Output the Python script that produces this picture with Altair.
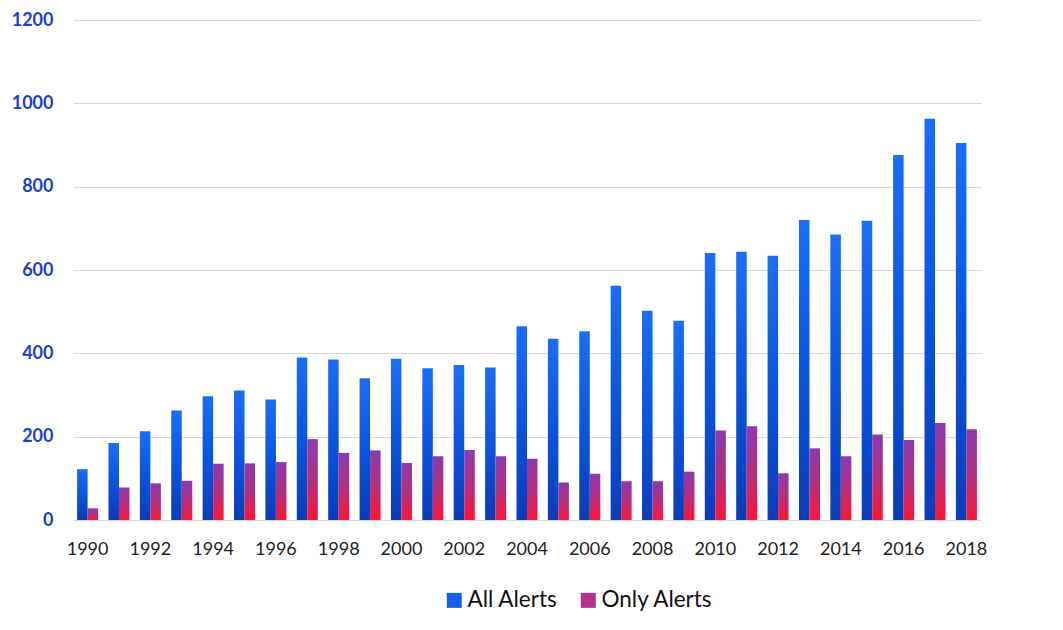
import altair as alt
import pandas as pd

years = list(range(1990, 2019))
all_alerts = [122, 185, 213, 263, 297, 311, 289, 390, 385, 340,
              387, 364, 372, 366, 465, 435, 453, 562, 502, 478,
              641, 644, 634, 720, 685, 718, 876, 963, 905]
only_alerts = [28, 78, 88, 94, 135, 136, 139, 194, 161, 167,
               137, 153, 168, 153, 147, 90, 111, 93, 93, 116,
               215, 225, 112, 172, 153, 205, 192, 233, 218]
series_names = ["All Alerts", "Only Alerts"]
series_colors = ["#1560e8", "#b8308f"]
y_ticks = [0, 200, 400, 600, 800, 1000, 1200]
x_ticks = years[::2]

rows = []
for i, yr in enumerate(years):
    rows.append({"year": yr, "series": series_names[0], "value": all_alerts[i]})
    rows.append({"year": yr, "series": series_names[1], "value": only_alerts[i]})
df = pd.DataFrame(rows)

FONT = "Lato"

x_enc = alt.X(
    "year:O",
    scale=alt.Scale(paddingInner=0.33, paddingOuter=0.13),
    axis=alt.Axis(values=x_ticks, labelAngle=0, title=None, ticks=False,
                  domain=False, labelPadding=20, labelFontSize=18,
                  labelColor="#222222", labelFont=FONT, grid=False),
)
xoff = alt.XOffset("series:N", scale=alt.Scale(domain=series_names,
                                               paddingInner=0, paddingOuter=0))
y_enc = alt.Y(
    "value:Q",
    scale=alt.Scale(domain=[0, 1200]),
    axis=alt.Axis(values=y_ticks, format="d", title=None, ticks=False, domain=False,
                  labelPadding=20, labelFontSize=18, labelFontWeight="bold",
                  labelColor="#1d3fc4", labelFont=FONT, grid=True,
                  gridColor="#d9d9d9", gridWidth=1.2),
)

blue_grad = alt.Gradient(
    gradient="linear", x1=0, x2=0, y1=0, y2=1,
    stops=[alt.GradientStop(color="#1a6ef5", offset=0),
           alt.GradientStop(color="#0b55dd", offset=0.5),
           alt.GradientStop(color="#0a3cb8", offset=1)],
)
pink_grad = alt.Gradient(
    gradient="linear", x1=0, x2=0, y1=0, y2=1,
    stops=[alt.GradientStop(color="#8a3aae", offset=0),
           alt.GradientStop(color="#b0307f", offset=0.5),
           alt.GradientStop(color="#ff1436", offset=1)],
)

base = alt.Chart(df)

bars_all = base.transform_filter(alt.datum.series == series_names[0]).mark_bar(
    color=blue_grad).encode(x=x_enc, xOffset=xoff, y=y_enc)
bars_only = base.transform_filter(alt.datum.series == series_names[1]).mark_bar(
    color=pink_grad).encode(x=x_enc, xOffset=xoff, y=y_enc)

legend_layer = base.mark_square(size=0, opacity=0).encode(
    x=x_enc, y=y_enc,
    color=alt.Color(
        "series:N",
        scale=alt.Scale(domain=series_names, range=series_colors),
        legend=alt.Legend(orient="none", legendX=370, legendY=569,
                          direction="horizontal", title=None,
                          symbolType="square", symbolSize=225,
                          symbolOpacity=1, symbolStrokeWidth=0,
                          labelFontSize=22.5, labelFont=FONT,
                          labelColor="#111111", labelOffset=2,
                          columnPadding=19, padding=0),
    ),
)

chart = alt.layer(bars_all, bars_only, legend_layer).properties(
    width=908, height=500,
    padding={"left": 3, "top": 3, "right": 5, "bottom": 5},
).configure(
    background="white",
    view=alt.ViewConfig(strokeWidth=0, stroke="transparent"),
)

chart.save("out.html", embed_options={"renderer": "svg", "actions": False})
